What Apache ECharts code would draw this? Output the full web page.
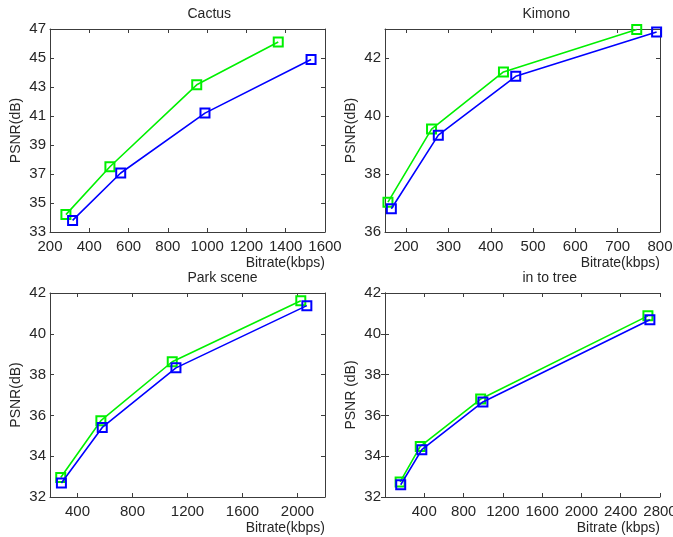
<!DOCTYPE html>
<html>
<head>
<meta charset="utf-8">
<script src="https://cdn.jsdelivr.net/npm/echarts@6/dist/echarts.min.js"></script>
<style>
  html, body { margin: 0; padding: 0; background: #fff; }
  #chart { width: 673px; height: 537px; }
</style>
</head>
<body>
<div id="chart"></div>
<script>
// values
const titles = ['Cactus', 'Kimono', 'Park scene', 'in to tree'];
const xNames = ['Bitrate(kbps)', 'Bitrate(kbps)', 'Bitrate(kbps)', 'Bitrate (kbps)'];
const yNames = ['PSNR(dB)', 'PSNR(dB)', 'PSNR(dB)', 'PSNR (dB)'];

const cactusGreenX = [281, 505, 947, 1362];
const cactusGreenY = [34.2, 37.5, 43.15, 46.1];
const cactusBlueX = [315, 560, 989, 1529];
const cactusBlueY = [33.8, 37.07, 41.2, 44.9];

const kimonoGreenX = [157, 260, 430, 745];
const kimonoGreenY = [37.03, 39.55, 41.52, 42.98];
const kimonoBlueX = [165, 276, 459, 792];
const kimonoBlueY = [36.8, 39.34, 41.37, 42.9];

const parkGreenX = [278, 570, 1089, 2024];
const parkGreenY = [32.96, 35.74, 38.63, 41.62];
const parkBlueX = [283, 580, 1116, 2068];
const parkBlueY = [32.69, 35.41, 38.33, 41.38];

const treeGreenX = [154, 359, 974, 2677];
const treeGreenY = [32.74, 34.48, 36.8, 40.88];
const treeBlueX = [160, 375, 997, 2697];
const treeBlueY = [32.6, 34.32, 36.66, 40.69];

const xTicks = [
  [200, 400, 600, 800, 1000, 1200, 1400, 1600],
  [200, 300, 400, 500, 600, 700, 800],
  [400, 800, 1200, 1600, 2000],
  [400, 800, 1200, 1600, 2000, 2400, 2800],
];
const yTicks = [
  [33, 35, 37, 39, 41, 43, 45, 47],
  [36, 38, 40, 42],
  [32, 34, 36, 38, 40, 42],
  [32, 34, 36, 38, 40, 42],
];
const xRange = [[200, 1600], [150, 800], [200, 2200], [0, 2800]];
const yRange = [[33, 47], [36, 43], [32, 42], [32, 42]];

const GREEN = '#00f000';
const BLUE = '#0000ff';
const FRAME = '#3c3c3c';
const TEXT = '#262626';
const FONT = 'Liberation Sans, Arial, sans-serif';

const grids = [
  { left: 50, top: 29, width: 275, height: 203 },
  { left: 385, top: 29, width: 275, height: 203 },
  { left: 50, top: 293, width: 275, height: 204 },
  { left: 385, top: 293, width: 275, height: 204 },
].map(g => ({ ...g, containLabel: false, outerBoundsMode: 'none' }));

const zip = (xs, ys) => xs.map((x, i) => [x, ys[i]]);
const pairs = [
  [zip(cactusGreenX, cactusGreenY), zip(cactusBlueX, cactusBlueY)],
  [zip(kimonoGreenX, kimonoGreenY), zip(kimonoBlueX, kimonoBlueY)],
  [zip(parkGreenX, parkGreenY), zip(parkBlueX, parkBlueY)],
  [zip(treeGreenX, treeGreenY), zip(treeBlueX, treeBlueY)],
];

const chart = echarts.init(document.getElementById('chart'), null, { renderer: 'canvas' });

const xAxis = [];
const yAxis = [];
const series = [];
const graphic = [];

grids.forEach((g, i) => {
  const tick = (vals) => ({ show: true, inside: true, length: 4, customValues: vals, lineStyle: { color: FRAME, width: 1 } });
  const line = { show: true, lineStyle: { color: FRAME, width: 1 } };
  const plain = (v) => String(v);

  // bottom axis with labels, top axis as mirrored frame side
  xAxis.push({
    type: 'value', gridIndex: i, position: 'bottom',
    min: xRange[i][0], max: xRange[i][1],
    axisLine: line, axisTick: tick(xTicks[i]), splitLine: { show: false },
    axisLabel: { customValues: xTicks[i], formatter: plain, color: TEXT, fontSize: 15, fontFamily: FONT, margin: 7 },
    name: xNames[i], nameLocation: 'end', nameGap: 0,
    nameTextStyle: { color: TEXT, fontSize: 14, fontFamily: FONT, align: 'right', verticalAlign: 'top', padding: [24, 0, 0, 0] },
  });
  xAxis.push({
    type: 'value', gridIndex: i, position: 'top',
    min: xRange[i][0], max: xRange[i][1],
    axisLine: line, axisTick: tick(xTicks[i]), splitLine: { show: false },
    axisLabel: { show: false },
  });
  yAxis.push({
    type: 'value', gridIndex: i, position: 'left',
    min: yRange[i][0], max: yRange[i][1],
    axisLine: line, axisTick: tick(yTicks[i]), splitLine: { show: false },
    axisLabel: { customValues: yTicks[i], formatter: plain, color: TEXT, fontSize: 15, fontFamily: FONT, margin: 4 },
    name: yNames[i], nameLocation: 'middle', nameGap: 27,
    nameTextStyle: { color: TEXT, fontSize: 14, fontFamily: FONT },
  });
  yAxis.push({
    type: 'value', gridIndex: i, position: 'right',
    min: yRange[i][0], max: yRange[i][1],
    axisLine: line, axisTick: tick(yTicks[i]), splitLine: { show: false },
    axisLabel: { show: false },
  });

  [GREEN, BLUE].forEach((c, k) => {
    series.push({
      type: 'line', xAxisIndex: i * 2, yAxisIndex: i * 2,
      data: pairs[i][k],
      symbol: 'rect', symbolSize: 9, showAllSymbol: true,
      lineStyle: { color: c, width: 1.6 },
      itemStyle: { color: 'transparent', borderColor: c, borderWidth: 2 },
      animation: false, z: 3 + k,
    });
  });

  graphic.push({
    type: 'text', left: g.left + g.width / 2, top: g.top - 22,
    style: { text: titles[i], fill: TEXT, font: '14px ' + FONT, textAlign: 'center' },
  });
});

chart.setOption({
  backgroundColor: '#fff',
  animation: false,
  grid: grids,
  xAxis,
  yAxis,
  series,
  graphic,
});
</script>
</body>
</html>
